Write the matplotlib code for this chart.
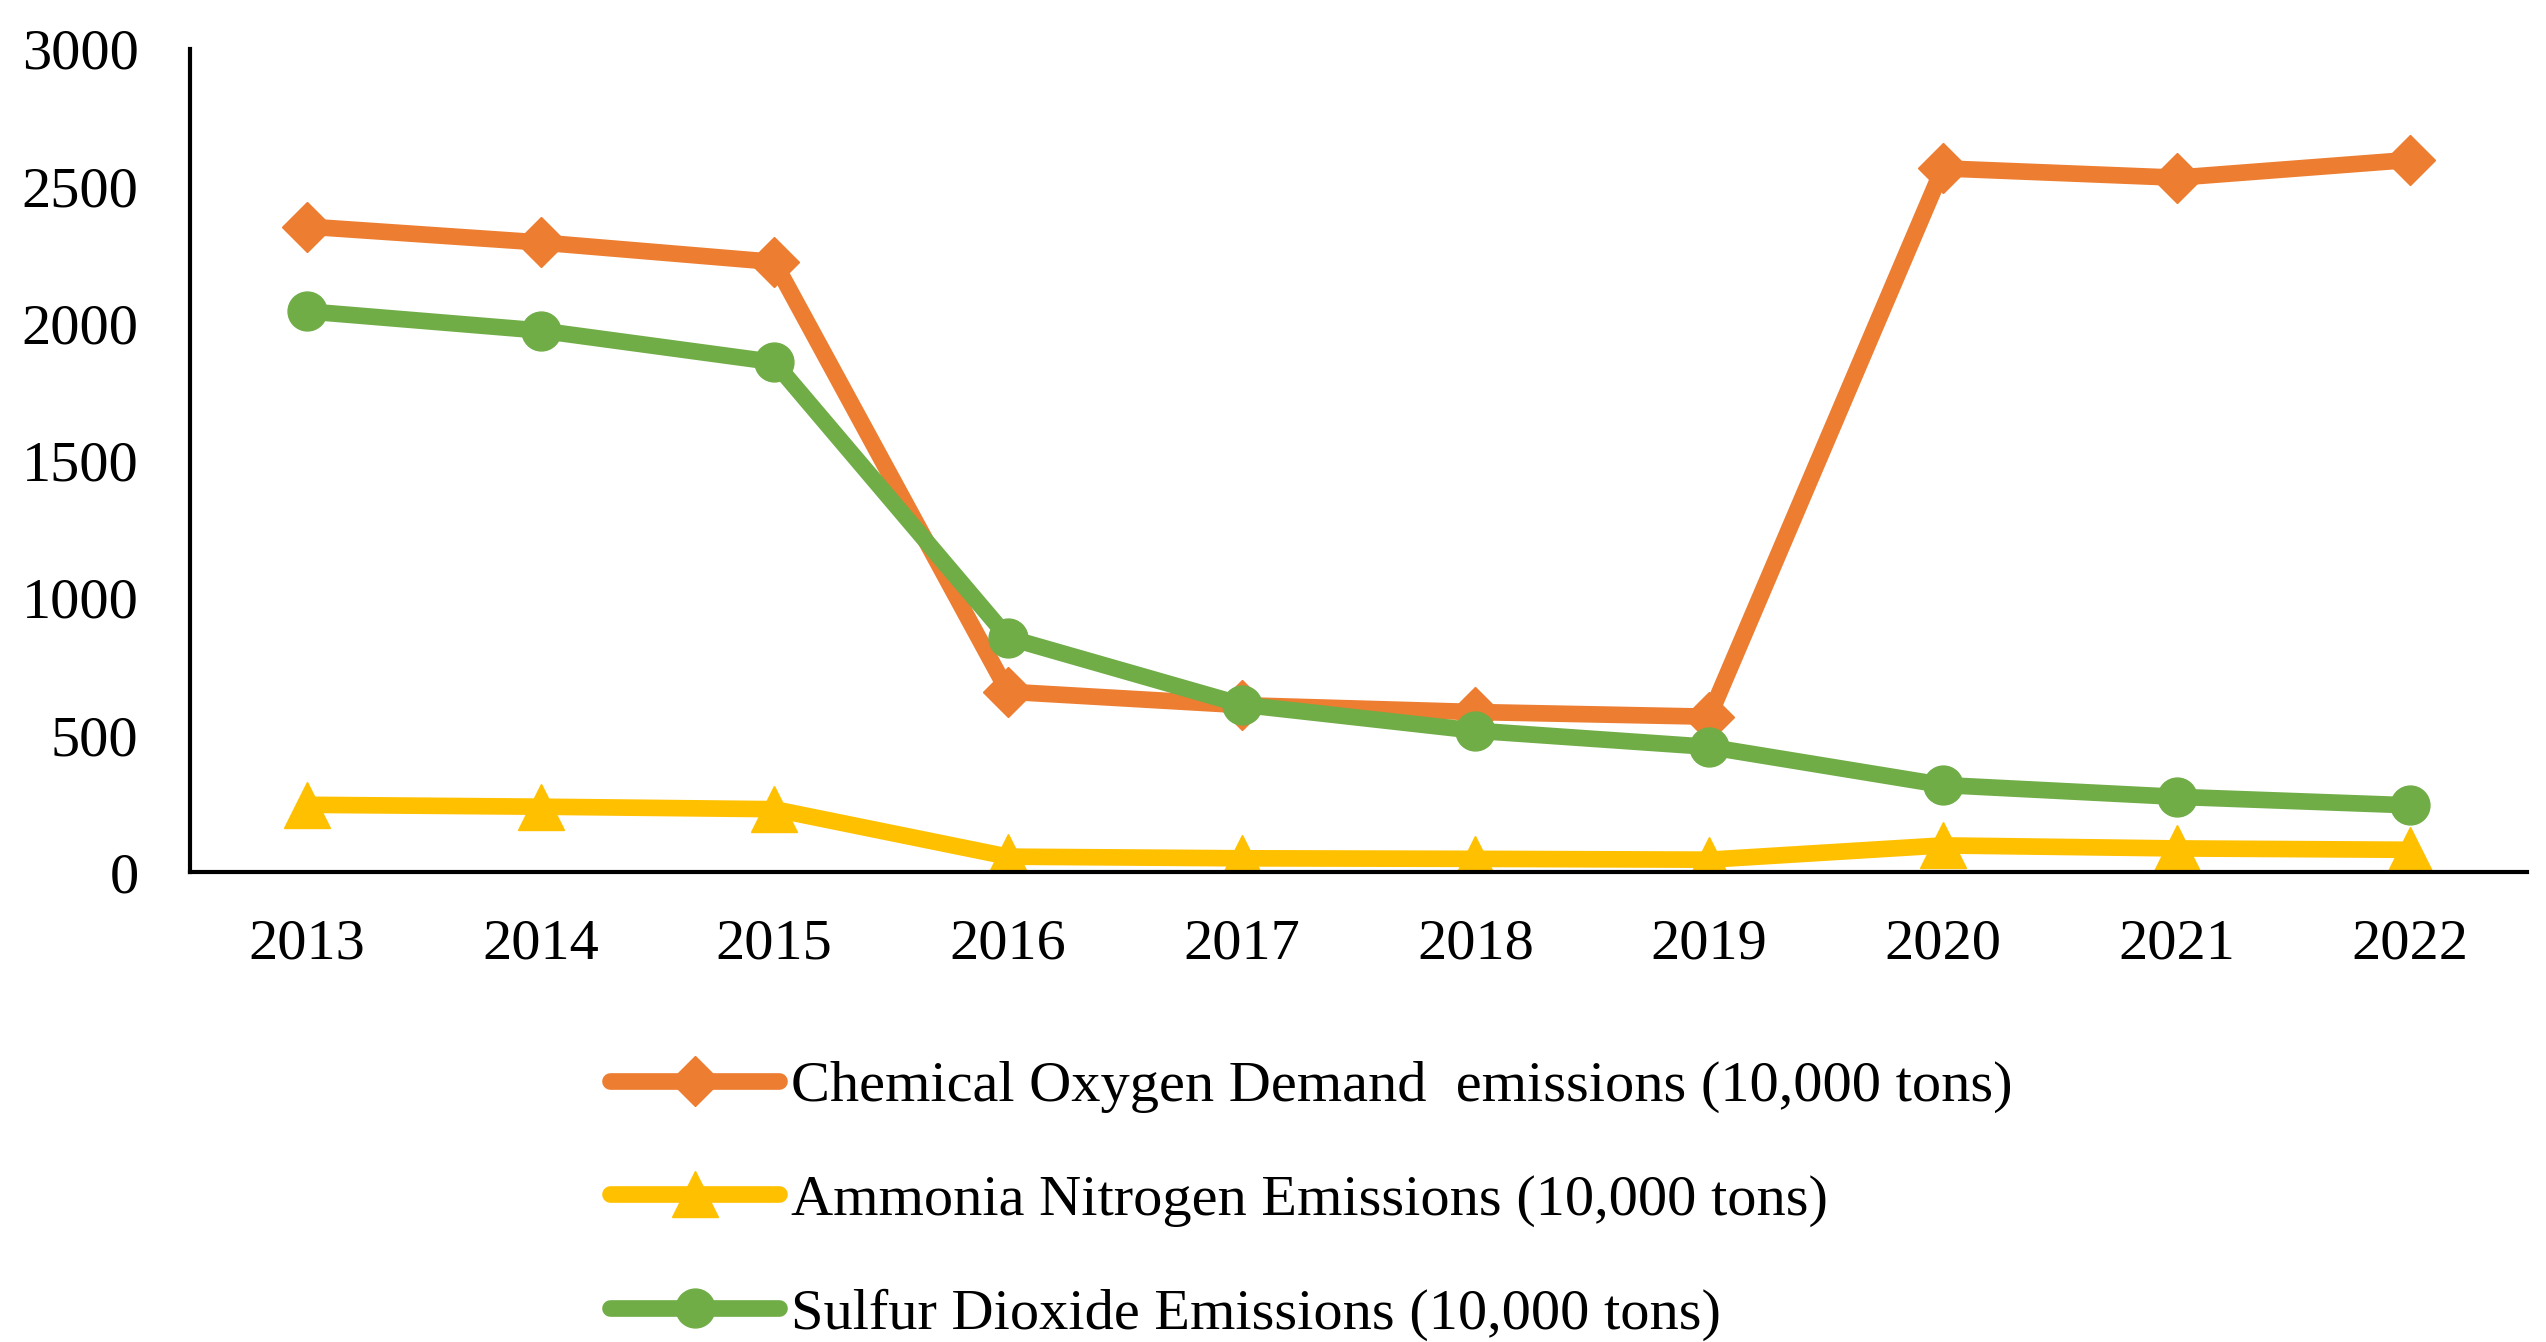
import matplotlib.pyplot as plt

plt.rcParams['font.family'] = ['Liberation Serif', 'DejaVu Serif']

years = ['2013', '2014', '2015', '2016', '2017', '2018', '2019', '2020', '2021', '2022']
cod = [2353, 2295, 2224, 658, 609, 584, 567, 2565, 2531, 2596]
ammonia = [246, 239, 230, 57, 51, 49, 46, 98, 87, 82]
so2 = [2044, 1974, 1859, 855, 611, 516, 457, 318, 275, 244]

labels = ['Chemical Oxygen Demand  emissions (10,000 tons)',
          'Ammonia Nitrogen Emissions (10,000 tons)',
          'Sulfur Dioxide Emissions (10,000 tons)']

fig = plt.figure(figsize=(25.46, 13.42), dpi=100)
ax = fig.add_axes([0.0746, 0.350, 0.918, 0.6135])

x = list(range(len(years)))
ax.plot(x, cod, color='#ED7D31', linewidth=12, marker='D', markersize=25,
        label=labels[0], solid_capstyle='round')
ax.plot(x, ammonia, color='#FFC000', linewidth=12, marker='^', markersize=33,
        label=labels[1], solid_capstyle='round')
ax.plot(x, so2, color='#70AD47', linewidth=12, marker='o', markersize=28,
        label=labels[2], solid_capstyle='round')

ax.set_xlim(-0.5, 9.5)
ax.set_ylim(0, 3000)
ax.set_yticks(range(0, 3001, 500))
ax.set_xticks(x)
ax.set_xticklabels(years)
ax.tick_params(axis='both', length=0, labelsize=42)
ax.tick_params(axis='y', pad=37)
ax.tick_params(axis='x', pad=33)

ax.spines['top'].set_visible(False)
ax.spines['right'].set_visible(False)
ax.spines['left'].set_linewidth(3)
ax.spines['bottom'].set_linewidth(3)

fig.legend(loc='upper left', bbox_to_anchor=(0.2396, 0.210), frameon=False,
           fontsize=42, handlelength=2.9, handletextpad=0.2, labelspacing=1.04,
           borderpad=0, borderaxespad=0)

fig.savefig('out.png', dpi=100)
